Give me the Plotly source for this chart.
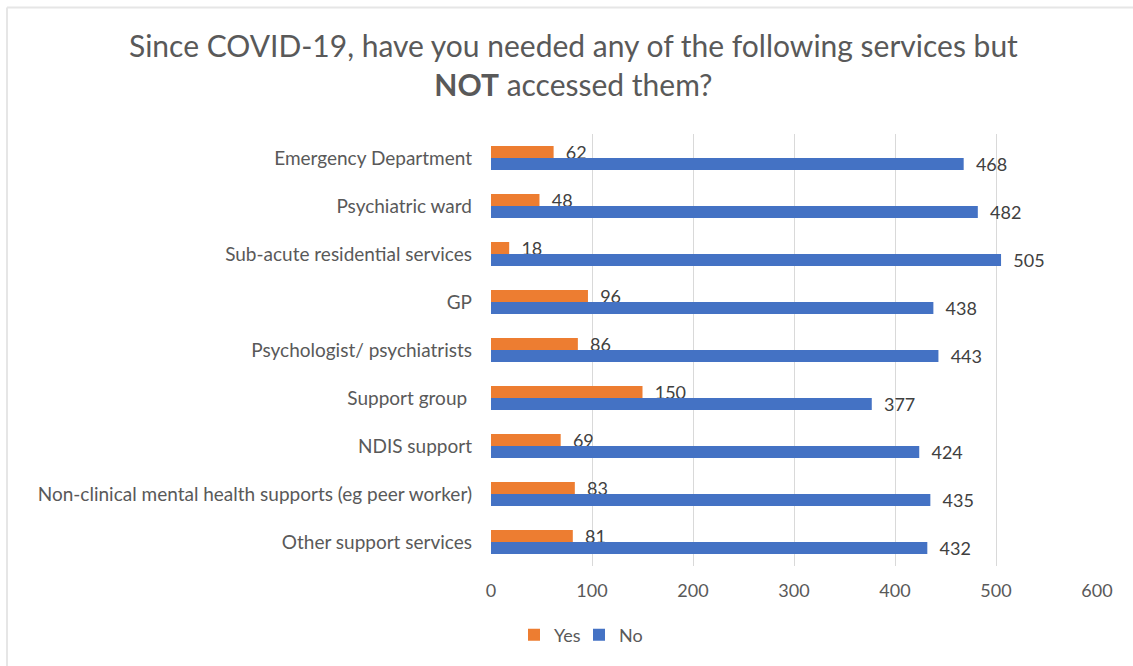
import plotly.graph_objects as go

categories = [
    "Emergency Department",
    "Psychiatric ward",
    "Sub-acute residential services",
    "GP",
    "Psychologist/ psychiatrists",
    "Support group ",
    "NDIS support",
    "Non-clinical mental health supports (eg peer worker)",
    "Other support services",
]
yes_values = [62, 48, 18, 96, 86, 150, 69, 83, 81]
no_values = [468, 482, 505, 438, 443, 377, 424, 435, 432]
x_ticks = [0, 100, 200, 300, 400, 500, 600]

FONT = "Lato"
TEXT = "#595959"
W, H = 1133, 666
L, R, T, B = 491, 36, 134, 100
pw = W - L - R
ph = H - T - B


def px_x(x):
    return (x - L) / pw


def px_y(y):
    return 1 + (T - y) / ph


fig = go.Figure()
for name, vals, color in [("Yes", yes_values, "#ED7D31"), ("No", no_values, "#4472C4")]:
    fig.add_trace(go.Bar(
        name=name, y=categories, x=vals, orientation="h",
        marker=dict(color=color, line=dict(width=0)),
        text=vals, texttemplate="  %{x}", textposition="outside",
        constraintext="none",
        textfont=dict(family=FONT, size=18, color="#404040"),
        cliponaxis=False,
    ))

# chart frame: thin light lines along the top and left edges
fig.add_shape(type="line", xref="paper", yref="paper",
              x0=px_x(7), x1=px_x(W), y0=px_y(7.5), y1=px_y(7.5),
              line=dict(color="#E6E6E6", width=2))
fig.add_shape(type="line", xref="paper", yref="paper",
              x0=px_x(7), x1=px_x(7), y0=px_y(7.5), y1=px_y(H),
              line=dict(color="#E6E6E6", width=2))

fig.add_annotation(
    text="Since COVID-19, have you needed any of the following services but<br><b>NOT</b> accessed them?",
    xref="paper", yref="paper", x=px_x(573), y=px_y(65),
    xanchor="center", yanchor="middle", showarrow=False,
    font=dict(family=FONT, size=30, color=TEXT),
)

fig.update_layout(
    width=W, height=H,
    margin=dict(l=L, r=R, t=T, b=B),
    paper_bgcolor="white", plot_bgcolor="white",
    barmode="group", bargap=0.5, bargroupgap=0,
    font=dict(family=FONT, color=TEXT),
    legend=dict(
        orientation="h", x=px_x(514), xanchor="left",
        y=px_y(635), yanchor="middle",
        font=dict(family=FONT, size=18, color=TEXT),
        traceorder="normal", itemwidth=30,
        entrywidth=20, entrywidthmode="pixels",
    ),
    xaxis=dict(
        range=[0, 600], tickvals=x_ticks, ticktext=[str(v) for v in x_ticks],
        showgrid=True, gridcolor="#D9D9D9", gridwidth=1,
        zeroline=False, showline=False, ticks="",
        tickfont=dict(family=FONT, size=18, color=TEXT),
        ticklabelstandoff=12,
    ),
    yaxis=dict(
        autorange="reversed", showgrid=False, zeroline=False,
        showline=False, ticks="",
        tickfont=dict(family=FONT, size=19, color=TEXT),
        ticklabelstandoff=18,
    ),
)

fig.write_html("out.html")
